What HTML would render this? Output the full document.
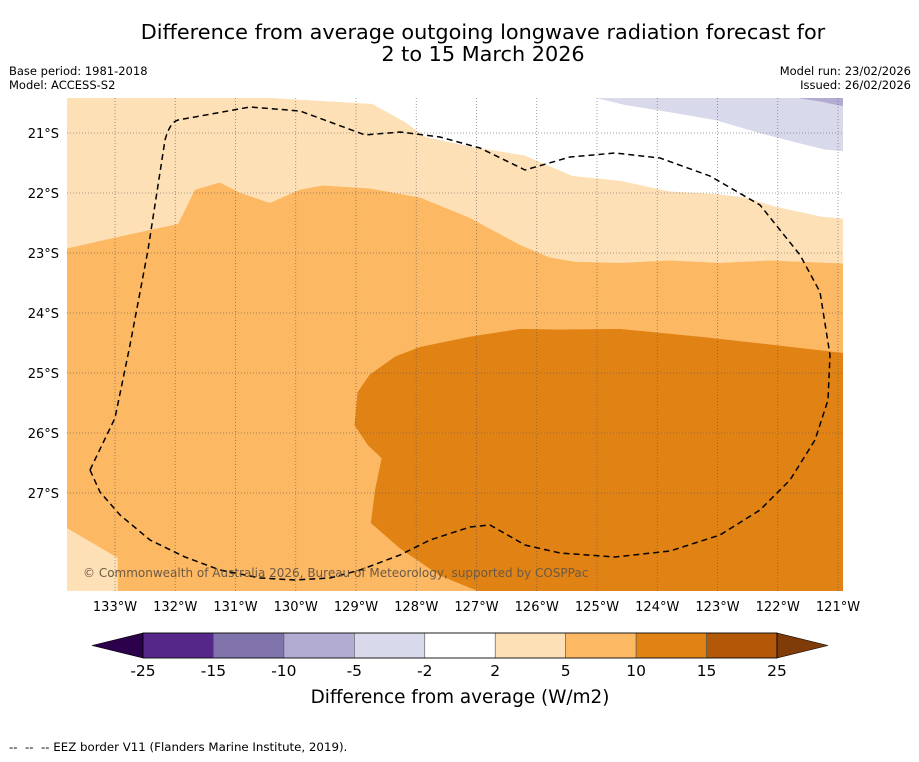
<!DOCTYPE html>
<html><head><meta charset="utf-8">
<style>
body{margin:0;background:#fff;width:919px;height:758px;overflow:hidden;font-family:"DejaVu Sans","Liberation Sans",sans-serif;}
svg text{font-family:"DejaVu Sans","Liberation Sans",sans-serif;}
</style></head>
<body>
<svg id="chart" width="919" height="758" xmlns="http://www.w3.org/2000/svg">
<text x="483" y="39" font-size="20.8" text-anchor="middle">Difference from average outgoing longwave radiation forecast for</text>
<text x="483" y="61" font-size="20.8" text-anchor="middle">2 to 15 March 2026</text>
<text x="9" y="75" font-size="11.5">Base period: 1981-2018</text>
<text x="9" y="89" font-size="11.5">Model: ACCESS-S2</text>
<text x="911" y="75" font-size="11.5" text-anchor="end">Model run: 23/02/2026</text>
<text x="911" y="89" font-size="11.5" text-anchor="end">Issued: 26/02/2026</text>
<defs><clipPath id="mapclip"><rect x="67" y="98" width="776" height="493"/></clipPath></defs>
<g id="map" clip-path="url(#mapclip)"></g>
<g id="grid"></g>
<path fill="none" stroke="#000" stroke-width="1.5" stroke-dasharray="6,4" d="M90,470 L115,418 L130,345 L148,250 L165,140 Q170,122 178,120 L250,107 L300,111 L330,122 L365,135 L400,132 L440,137 L480,148 L525,170 L570,157 L615,153 L660,158 L710,176 L760,205 L800,255 L820,292 L830,355 L828,400 L815,440 L790,480 L760,510 L720,535 L670,551 L615,557 L560,553 L525,545 L490,525 L470,527 L430,540 L400,555 L360,570 L330,578 L295,580 L260,578 L220,570 L185,557 L150,540 L120,515 L100,492 Z"/>
<text x="83" y="577" font-size="12" fill="#6b5a45">© Commonwealth of Australia 2026, Bureau of Meteorology, supported by COSPPac</text>
<g id="axes"></g>
<g id="cbar"></g>
<text x="460" y="703" font-size="18.4" text-anchor="middle">Difference from average (W/m2)</text>
<text x="9" y="751" font-size="11.8">--&#160;&#160;--&#160;&#160;-- EEZ border V11 (Flanders Marine Institute, 2019).</text>
</svg>
<script>
const lonTicks=[-133,-132,-131,-130,-129,-128,-127,-126,-125,-124,-123,-122,-121];
const lonLabels=["133°W","132°W","131°W","130°W","129°W","128°W","127°W","126°W","125°W","124°W","123°W","122°W","121°W"];
const latTicks=[-21,-22,-23,-24,-25,-26,-27];
const latLabels=["21°S","22°S","23°S","24°S","25°S","26°S","27°S"];
const cbarLevels=[-25,-15,-10,-5,-2,2,5,10,15,25];
const cbarColors=["#542788","#8073ac","#b2abd2","#d8daeb","#ffffff","#fee0b6","#fdb863","#e08214","#b35806"];
const cbarLow="#2d004b", cbarHigh="#7f3b08";
const band5to10=[[-133.8,-20.42],[-130.43,-20.42],[-128.73,-20.52],[-128.19,-20.82],[-127.85,-21.07],[-127.11,-21.23],[-126.2,-21.38],[-125.41,-21.72],[-124.62,-21.8],[-123.79,-21.98],[-123.04,-22.02],[-122.54,-22.08],[-122.05,-22.23],[-121.27,-22.4],[-120.92,-22.43],[-120.92,-28.63],[-133.8,-28.63]];
const band10to15=[[-133.8,-22.93],[-132.92,-22.73],[-131.95,-22.52],[-131.67,-21.95],[-131.26,-21.83],[-130.93,-22.0],[-130.43,-22.17],[-129.93,-21.95],[-129.56,-21.88],[-128.77,-21.93],[-127.94,-22.08],[-127.11,-22.42],[-126.28,-22.87],[-125.78,-23.08],[-125.37,-23.15],[-124.62,-23.17],[-123.79,-23.13],[-122.96,-23.17],[-122.13,-23.13],[-120.92,-23.18],[-120.92,-28.63],[-132.95,-28.63],[-132.95,-28.08],[-133.8,-27.58]];
const band15to25=[[-120.92,-24.67],[-122.13,-24.53],[-123.29,-24.4],[-124.62,-24.27],[-125.61,-24.28],[-126.28,-24.27],[-127.11,-24.4],[-127.94,-24.57],[-128.35,-24.73],[-128.77,-25.03],[-128.97,-25.32],[-129.02,-25.87],[-128.8,-26.2],[-128.57,-26.42],[-128.68,-26.95],[-128.75,-27.5],[-128.27,-27.92],[-127.61,-28.37],[-126.98,-28.63],[-120.92,-28.63]];
const bandM5toM2=[[-124.98,-20.42],[-124.53,-20.53],[-123.79,-20.65],[-123.04,-20.78],[-122.29,-21.0],[-121.63,-21.17],[-121.22,-21.27],[-120.92,-21.3],[-120.92,-20.42]];
const bandM10toM5=[[-121.63,-20.42],[-120.92,-20.42],[-120.92,-20.55],[-121.3,-20.47]];

const NS="http://www.w3.org/2000/svg";
function xS(lon){return 115+(lon+133)*60.25;}
function yS(lat){return 133+(-21-lat)*60;}
function mk(tag,attrs,parent){const e=document.createElementNS(NS,tag);for(const k in attrs)e.setAttribute(k,attrs[k]);parent.appendChild(e);return e;}
const map=document.getElementById('map');
const bg=mk('rect',{x:67,y:98,width:776,height:493,fill:'#ffffff'},map);


function poly(pts,fill,name){
  const p=mk('polygon',{points:pts.map(q=>xS(q[0]).toFixed(1)+','+yS(q[1]).toFixed(1)).join(' '),fill:fill,stroke:fill,'stroke-width':0.5},map);
  
  
}
poly(band5to10,cbarColors[5],'anomaly-band-5-to-10');
poly(band10to15,cbarColors[6],'anomaly-band-10-to-15');
poly(band15to25,cbarColors[7],'anomaly-band-15-to-25');
poly(bandM5toM2,cbarColors[3],'anomaly-band-minus5-to-minus2');
poly(bandM10toM5,cbarColors[2],'anomaly-band-minus10-to-minus5');

const grid=document.getElementById('grid'), axes=document.getElementById('axes');
lonTicks.forEach((lon,i)=>{
  const x=xS(lon);
  if(x>67&&x<843){const l=mk('line',{x1:x,y1:98,x2:x,y2:591,stroke:'#555','stroke-width':0.8,'stroke-dasharray':'1,2','stroke-opacity':0.7},grid);
  
  }
  const t=mk('text',{x:x,y:611,'font-size':13,'text-anchor':'middle'},axes);t.textContent=lonLabels[i];
  
  
});
latTicks.forEach((lat,i)=>{
  const y=yS(lat);
  const l=mk('line',{x1:67,y1:y,x2:843,y2:y,stroke:'#555','stroke-width':0.8,'stroke-dasharray':'1,2','stroke-opacity':0.7},grid);
  
  
  const t=mk('text',{x:59,y:y+5,'font-size':13,'text-anchor':'end'},axes);t.textContent=latLabels[i];
  
  
});
const cb=document.getElementById('cbar');
const cx0=143,cx1=777,cy0=633,ch=25,n=cbarColors.length,w=(cx1-cx0)/n;
function cbX(i){return cx0+i*w;}
cbarColors.forEach((c,i)=>{
  const r=mk('rect',{x:cbX(i),y:cy0,width:w,height:ch,fill:c,stroke:'#555','stroke-width':0.6},cb);
  
  
});
const lt=mk('polygon',{points:`${cx0},${cy0} ${cx0},${cy0+ch} 92,${cy0+ch/2}`,fill:cbarLow,stroke:'#000','stroke-width':0.6},cb);


const ht=mk('polygon',{points:`${cx1},${cy0} ${cx1},${cy0+ch} 828,${cy0+ch/2}`,fill:cbarHigh,stroke:'#000','stroke-width':0.6},cb);


const ob=mk('rect',{x:cx0,y:cy0,width:cx1-cx0,height:ch,fill:'none',stroke:'#000','stroke-width':0.8},cb);


cbarLevels.forEach((v,i)=>{
  const t=mk('text',{x:cbX(i),y:676,'font-size':15.5,'text-anchor':'middle'},cb);t.textContent=String(v);
  
  
});
</script>
</body></html>
